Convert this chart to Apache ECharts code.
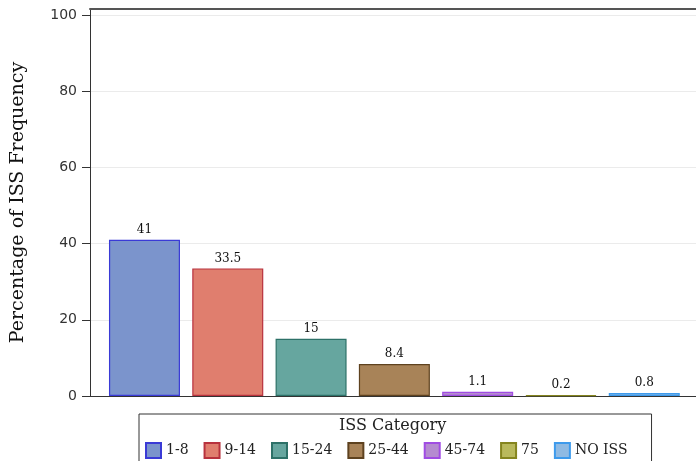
<!DOCTYPE html>
<html>
<head>
<meta charset="utf-8">
<script src="https://cdn.jsdelivr.net/npm/echarts@6/dist/echarts.min.js"></script>
<style>
  html, body { margin: 0; padding: 0; background: #fff; }
  #main { width: 696px; height: 461px; }
</style>
</head>
<body>
<div id="main"></div>
<script>
var myChart = echarts.init(document.getElementById('main'))

// ISS categories and their share of cases (%)
var categories = ['1-8', '9-14', '15-24', '25-44', '45-74', '75', 'NO ISS']
var percents = [41, 33.5, 15, 8.4, 1.1, 0.2, 0.8]
var yTicks = [0, 20, 40, 60, 80, 100]

var fills = ['#7B94CC', '#E07E6E', '#66A69F', '#A88358', '#B58BD0', '#B9B95C', '#8FBAE3']
var borders = ['#3A3AD6', '#B8323E', '#2D7168', '#5E421F', '#A04CE3', '#85851F', '#3D9AEC']

var series = []
for (var i = 0; i < categories.length; i++) {
  series.push({
    name: categories[i],
    type: 'bar',
    barWidth: 71,
    barGap: '-100%',
    data: [[i, percents[i]]],
    itemStyle: {
      color: fills[i],
      borderColor: borders[i],
      borderWidth: 1.2
    },
    label: {
      show: true,
      position: 'top',
      distance: 4,
      color: '#111',
      fontFamily: 'DejaVu Serif',
      fontSize: 12,
      formatter: function (p) { return p.value[1] }
    }
  })
}

var option = {
  animation: false,
  backgroundColor: '#fff',
  title: {
    text: 'ISS Category',
    left: 339,
    top: 418,
    padding: 0,
    textStyle: {
      fontFamily: 'DejaVu Serif',
      fontWeight: 'normal',
      fontSize: 16,
      color: '#222'
    }
  },
  legend: {
    data: categories,
    left: 139,
    top: 414,
    orient: 'horizontal',
    icon: 'rect',
    itemWidth: 15,
    itemHeight: 15,
    itemGap: 15,
    padding: [28, 24, 10, 6],
    borderColor: '#333',
    borderWidth: 1,
    textStyle: {
      fontFamily: 'DejaVu Serif',
      fontSize: 14,
      color: '#222'
    }
  },
  grid: {
    left: 90,
    right: 0,
    top: 9,
    bottom: 65,
    outerBoundsMode: 'none'
  },
  xAxis: [
    {
      type: 'value',
      min: -0.654,
      max: 6.621,
      axisLine: { show: true, onZero: false, lineStyle: { color: '#333', width: 1 } },
      axisTick: { show: false },
      axisLabel: { show: false },
      splitLine: { show: false }
    },
    {
      type: 'value',
      position: 'top',
      min: -0.654,
      max: 6.621,
      axisLine: { show: true, onZero: false, lineStyle: { color: '#555', width: 2 } },
      axisTick: { show: false },
      axisLabel: { show: false },
      splitLine: { show: false }
    }
  ],
  yAxis: {
    type: 'value',
    min: 0,
    max: 101.6,
    interval: 20,
    name: 'Percentage of ISS Frequency',
    nameLocation: 'middle',
    nameGap: 62,
    nameRotate: 90,
    nameTextStyle: {
      fontFamily: 'DejaVu Serif',
      fontSize: 19,
      color: '#111'
    },
    axisLine: { show: true, onZero: false, lineStyle: { color: '#333', width: 1 } },
    axisTick: { show: true, length: 8, customValues: yTicks, lineStyle: { color: '#333' } },
    axisLabel: {
      customValues: yTicks,
      margin: 13,
      fontFamily: 'DejaVu Sans',
      fontSize: 14,
      color: '#333'
    },
    splitLine: { show: true, lineStyle: { color: '#ebebeb', width: 1 } }
  },
  series: series
}

myChart.setOption(option)
</script>
</body>
</html>
